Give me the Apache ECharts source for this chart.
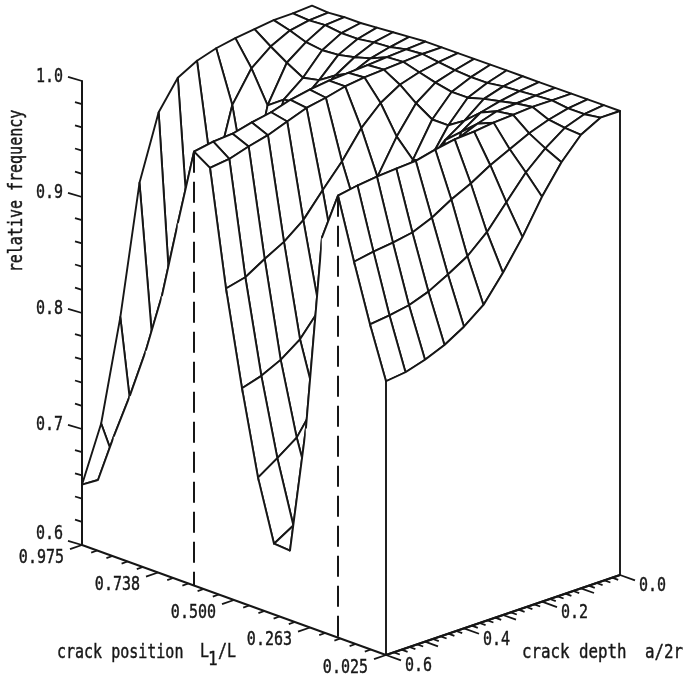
<!DOCTYPE html>
<html><head><meta charset="utf-8">
<style>html,body{margin:0;padding:0;background:#fff}#c{width:685px;height:675px}</style>
<script src="https://cdn.jsdelivr.net/npm/echarts@6/dist/echarts.min.js"></script>
</head><body><div id="c"></div>
<script>
// crack depth a/2r of each column in the rows below
const crackDepths = [0.60,0.55,0.50,0.45,0.40,0.35,0.30,0.25,0.20,0.15,0.10,0.05,0.00];
// crack position L1/L of each row
const crackPositions = [0.975,0.925,0.875,0.825,0.775,0.725,0.675,0.625,0.575,0.525,0.475,0.425,0.375,0.325,0.275,0.225,0.175,0.125,0.075,0.025];
// relative frequency, one list per crack position
const f0975 = [.652,.699,.785,.895,.950,.974,.983,.988,.991,.993,.995,.995,.996];
const f0925 = [.661,.666,.670,.730,.735,.779,.883,.944,.970,.983,.991,.994,.995];
const f0875 = [.704,.690,.695,.710,.730,.770,.810,.870,.943,.974,.986,.995,.996];
const f0825 = [.744,.730,.735,.750,.770,.800,.850,.900,.953,.966,.984,.993,.996];
const f0775 = [.788,.785,.790,.800,.820,.850,.890,.930,.955,.969,.985,.993,.997];
const f0725 = [.840,.840,.845,.855,.870,.895,.925,.950,.965,.978,.988,.995,.998];
const f0675 = [.908,.910,.915,.920,.930,.945,.960,.970,.980,.985,.992,.996,.999];
const f0625 = [.974,.977,.978,.982,.985,.990,.993,.995,.996,.997,.998,.999,1.00];
const f0575 = [.965,.967,.972,.976,.982,.988,.991,.995,.997,.998,.999,1.00,1.00];
const f0525 = [.866,.870,.880,.889,.902,.922,.941,.964,.980,.990,.995,.998,1.00];
const f0475 = [.785,.790,.798,.810,.830,.850,.900,.927,.956,.979,.991,.996,1.00];
const f0425 = [.713,.724,.736,.760,.780,.820,.870,.910,.941,.970,.988,.995,1.00];
const f0375 = [.661,.671,.688,.710,.740,.780,.830,.890,.945,.970,.988,.995,1.00];
const f0325 = [.660,.665,.675,.700,.730,.770,.820,.880,.968,.979,.992,.997,1.00];
const f0275 = [.771,.780,.790,.800,.820,.850,.890,.930,.980,.991,.995,.998,1.00];
const f0225 = [.940,.945,.950,.955,.960,.965,.970,.985,.992,.997,.998,.999,1.00];
const f0175 = [.981,.984,.986,.987,.988,.992,.995,.996,.998,.999,1.00,1.00,1.00];
const f0125 = [.929,.932,.934,.937,.944,.954,.962,.972,.980,.988,.994,.998,1.00];
const f0075 = [.880,.882,.885,.891,.900,.910,.925,.945,.965,.980,.992,.998,1.00];
const f0025 = [.836,.838,.843,.850,.860,.873,.895,.920,.949,.973,.991,1.00,1.00];
const surface = [f0975,f0925,f0875,f0825,f0775,f0725,f0675,f0625,f0575,f0525,f0475,f0425,f0375,f0325,f0275,f0225,f0175,f0125,f0075,f0025];
// dashed droplines stand under these crack positions
const dashedPositions = [0.625,0.175];
// axis ticks and labels
const frequencyTicks = [0.60,0.62,0.64,0.66,0.68,0.70,0.72,0.74,0.76,0.78,0.80,0.82,0.84,0.86,0.88,0.90,0.92,0.94,0.96,0.98,1.00];
const frequencyLabels = {0:'0.6',5:'0.7',10:'0.8',15:'0.9',20:'1.0'};
const positionTicks = [0.975,0.9275,0.88,0.8325,0.785,0.7375,0.69,0.6425,0.595,0.5475,0.50,0.4525,0.405,0.3575,0.31,0.2625,0.215,0.1675,0.12,0.0725,0.025];
const positionLabels = {0:'0.975',5:'0.738',10:'0.500',15:'0.263',20:'0.025'};
const depthTicks = [0.60,0.58,0.56,0.54,0.52,0.50,0.48,0.46,0.44,0.42,0.40,0.38,0.36,0.34,0.32,0.30,0.28,0.26,0.24,0.22,0.20,0.18,0.16,0.14,0.12,0.10,0.08,0.06,0.04,0.02,0.00];
const depthLabels = {0:'0.6',10:'0.4',20:'0.2',30:'0.0'};

const INK = '#161616', LW = 1.9, FONT = '"DejaVu Sans Mono"';
const FMIN = 0.6, TEXT_SCALE = 1.25;
const textStyle = (s, size, align) => ({text:s, font:size+'px '+FONT, fill:INK, stroke:INK, lineWidth:0.35, align:align, verticalAlign:'middle'});

// oblique projection of (crack position, crack depth, frequency) onto the picture plane
function project(pos, depth, freq) {
  const u = (0.975 - pos) / 0.95, v = (0.6 - depth) / 0.6;
  return [82 + 304*u + 230*v + 4*u*v, 545 + 110*u - 80*v - 1160*(freq - 0.6)];
}
const node = (i, j) => project(crackPositions[i], crackDepths[j], surface[i][j]);
const floorPt = (i, j) => project(crackPositions[i], crackDepths[j], FMIN);

const chart = echarts.init(document.getElementById('c'), null, {renderer:'canvas'});

// painter's order: far to near
const cellItems = [];
for (let i = 0; i < crackPositions.length - 1; i++) {
  for (let j = crackDepths.length - 2; j >= 0; j--) cellItems.push([0, i, j]);
  cellItems.push([1, i, 0]);
}
function renderSurface(params, api) {
  const kind = api.value(0), i = api.value(1), j = api.value(2);
  const c = p => api.coord(p);
  if (kind === 0) {
    return {type:'polygon', shape:{points:[node(i,j),node(i+1,j),node(i+1,j+1),node(i,j+1)].map(c)},
      style:{fill:'#fff',stroke:INK,lineWidth:LW,lineJoin:'round'}};
  }
  return {type:'group', children:[
    {type:'polygon', shape:{points:[node(i,0),node(i+1,0),floorPt(i+1,0),floorPt(i,0)].map(c)}, style:{fill:'#fff',stroke:'#fff',lineWidth:0.5}},
    {type:'line', shape:{x1:c(node(i,0))[0],y1:c(node(i,0))[1],x2:c(node(i+1,0))[0],y2:c(node(i+1,0))[1]}, style:{stroke:INK,lineWidth:LW,lineCap:'round'}}
  ]};
}
function renderWall(params, api) {
  const last = crackPositions.length - 1, pts = [];
  crackDepths.forEach((d, j) => pts.push(node(last, j)));
  pts.push(floorPt(last, crackDepths.length - 1));
  pts.push(floorPt(last, 0));
  return {type:'polygon', shape:{points:pts.map(p=>api.coord(p))}, style:{fill:'#fff',stroke:INK,lineWidth:LW,lineJoin:'round'}};
}
function lineEl(a, b, w, extra) {
  return {type:'line', shape:{x1:a[0],y1:a[1],x2:b[0],y2:b[1]}, style:Object.assign({stroke:INK,lineWidth:w,lineCap:'butt'}, extra||{})};
}
function renderDash(params, api) {
  const i = crackPositions.indexOf(api.value(0));
  return lineEl(api.coord(node(i,0)), api.coord(floorPt(i,0)), 2, {lineDash:[21,9]});
}
function renderPositionTick(params, api) {
  const k = params.dataIndex, at = api.coord(project(api.value(0), 0.6, FMIN));
  const lab = positionLabels[k], len = lab ? 12 : 6;
  const end = [at[0]-len, at[1]+len*0.34];
  const ch = [lineEl(at, end, 1.8)];
  if (lab) ch.push({type:'text', x:end[0]-6, y:end[1]+9, scaleY:TEXT_SCALE, style:textStyle(lab,15,'right')});
  return {type:'group', children:ch};
}
function renderDepthTick(params, api) {
  const k = params.dataIndex, at = api.coord(project(0.025, api.value(0), FMIN));
  const lab = depthLabels[k], len = k % 5 === 0 ? (k%10===0?15:13) : 6;
  const end = [at[0]+len, at[1]+len*0.36];
  const ch = [lineEl(at, end, 1.8)];
  if (lab) ch.push({type:'text', x:end[0]+4, y:end[1]+6, scaleY:TEXT_SCALE, style:textStyle(lab,15,'left')});
  return {type:'group', children:ch};
}
function renderFreqTick(params, api) {
  const k = params.dataIndex, at = api.coord(project(0.975, 0.6, api.value(0)));
  const len = k % 5 === 0 ? 14 : 7;
  const ch = [lineEl(at, [at[0]-len, at[1]-len*0.3], 1.8)];
  if (frequencyLabels[k]) ch.push({type:'text', x:63, y:at[1]-(k===0?11:4), scaleY:TEXT_SCALE, style:textStyle(frequencyLabels[k],15,'right')});
  return {type:'group', children:ch};
}
function renderBase(params, api) {
  const a = api.coord(project(0.975,0.6,FMIN)), b = api.coord(project(0.025,0.6,FMIN)), e = api.coord(project(0.025,0,FMIN));
  return {type:'group', children:[lineEl(a,b,2),lineEl(b,e,2)]};
}
const plane = {xAxisIndex:0, yAxisIndex:0, type:'custom', silent:true, animation:false, clip:false};
const txt = (x, y, s, size) => ({type:'text', x:x, y:y, scaleY:TEXT_SCALE, style:textStyle(s,size,'left')});

chart.setOption({
  animation:false,
  backgroundColor:'#fff',
  grid:[
    {left:0, top:0, width:685, height:675},
    {left:82, top:81, width:1, height:464}
  ],
  xAxis:[
    {gridIndex:0, type:'value', min:0, max:685, show:false},
    {gridIndex:1, type:'value', min:0, max:1, show:false}
  ],
  yAxis:[
    {gridIndex:0, type:'value', min:0, max:675, inverse:true, show:false},
    {gridIndex:1, type:'value', min:0.6, max:1.0, interval:0.1, position:'left', z:8,
     axisLine:{show:true, onZero:false, lineStyle:{color:INK,width:2}}, axisTick:{show:false}, splitLine:{show:false}, axisLabel:{show:false}}
  ],
  series:[
    Object.assign({}, plane, {name:'surface', data:cellItems, renderItem:renderSurface, encode:{x:1,y:2}, z:3}),
    Object.assign({}, plane, {name:'wall', data:[[0,0]], renderItem:renderWall, z:4}),
    Object.assign({}, plane, {name:'droplines', data:dashedPositions.map(p=>[p]), renderItem:renderDash, encode:{x:0}, z:5}),
    Object.assign({}, plane, {name:'base', data:[[0,0]], renderItem:renderBase, z:6}),
    Object.assign({}, plane, {name:'positionTicks', data:positionTicks.map(p=>[p]), renderItem:renderPositionTick, encode:{x:0}, z:6}),
    Object.assign({}, plane, {name:'depthTicks', data:depthTicks.map(p=>[p]), renderItem:renderDepthTick, encode:{x:0}, z:6}),
    Object.assign({}, plane, {name:'freqTicks', data:frequencyTicks.map(p=>[p]), renderItem:renderFreqTick, encode:{x:0}, z:6})
  ],
  graphic:[
    {type:'text', x:17, y:191, rotation:Math.PI/2, scaleY:TEXT_SCALE, style:textStyle('relative frequency',15,'center')},
    txt(57,653,'crack position',15),
    txt(200,652,'L',15),
    {type:'text', x:208, y:660, scaleY:TEXT_SCALE, style:textStyle('1',16,'left')},
    txt(218,652,'/L',15),
    txt(522,653,'crack depth',15.8),
    txt(645,653,'a/2r',15.8)
  ]
});
</script></body></html>
